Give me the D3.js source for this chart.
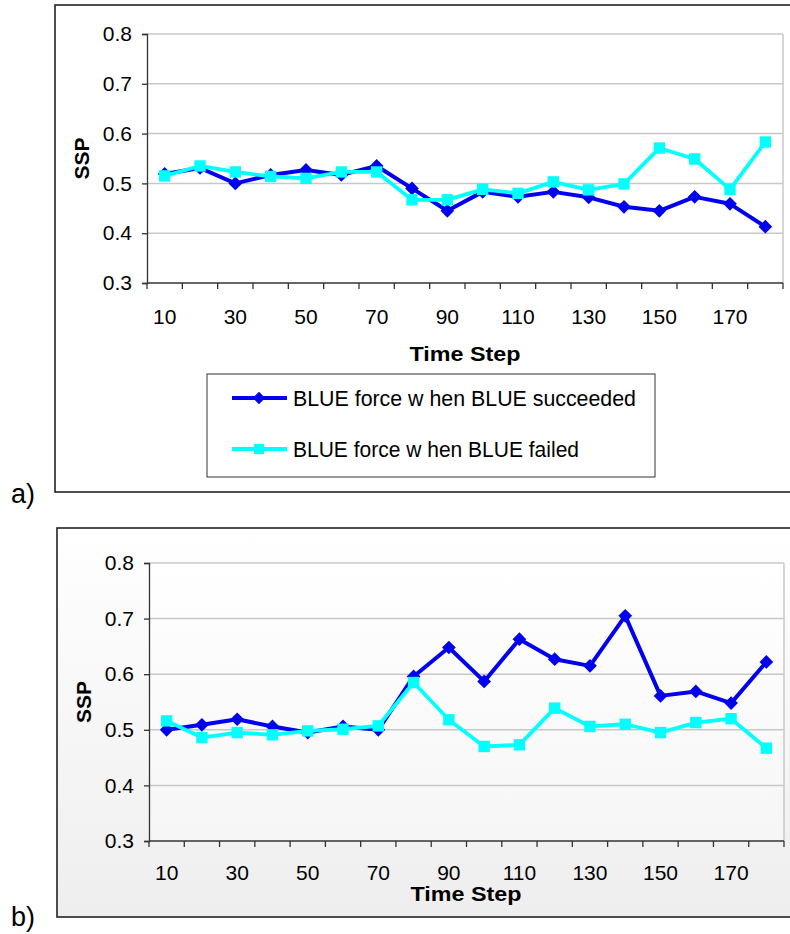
<!DOCTYPE html>
<html>
<head>
<meta charset="utf-8">
<script src="https://cdn.jsdelivr.net/npm/d3@7"></script>
<style>
  html, body { margin: 0; padding: 0; background: #fff; }
  svg { display: block; }
  text { font-family: "Liberation Sans", Arial, sans-serif; }
</style>
</head>
<body>
<svg id="chart" width="790" height="934"></svg>
<script>
// ---- data ----
const timeSteps = [10,20,30,40,50,60,70,80,90,100,110,120,130,140,150,160,170,180];
const tickLabels = [10,30,50,70,90,110,130,150,170];
const yTicks = [0.3,0.4,0.5,0.6,0.7,0.8];
const seriesNames = ["BLUE force w hen BLUE succeeded", "BLUE force w hen BLUE failed"];
const aSucceeded = [0.519,0.531,0.500,0.517,0.527,0.517,0.535,0.490,0.445,0.483,0.473,0.483,0.472,0.453,0.445,0.473,0.459,0.413];
const aFailed    = [0.515,0.535,0.523,0.514,0.510,0.523,0.523,0.467,0.467,0.488,0.480,0.503,0.487,0.499,0.571,0.549,0.488,0.583];
const bSucceeded = [0.500,0.509,0.519,0.506,0.495,0.506,0.500,0.596,0.648,0.587,0.663,0.627,0.615,0.705,0.561,0.569,0.548,0.622];
const bFailed    = [0.516,0.486,0.495,0.491,0.498,0.501,0.507,0.585,0.518,0.470,0.473,0.539,0.506,0.510,0.495,0.513,0.520,0.467];

const svg = d3.select("#chart");
const defs = svg.append("defs");
const g1 = defs.append("linearGradient").attr("id","bgB").attr("x1",0).attr("y1",0).attr("x2",0).attr("y2",1);
g1.append("stop").attr("offset","0%").attr("stop-color","#ffffff");
g1.append("stop").attr("offset","100%").attr("stop-color","#eeeeee");
const g2 = defs.append("linearGradient").attr("id","plotB").attr("x1",0).attr("y1",0).attr("x2",0).attr("y2",1);
g2.append("stop").attr("offset","0%").attr("stop-color","#ffffff");
g2.append("stop").attr("offset","100%").attr("stop-color","#f6f6f6");

const BLUE = "#0000ee", CYAN = "#00ffff";

function drawPanel(cfg) {
  const {box, plot, succ, fail, bgFill, plotFill, timeStepY, tickY, legend, label} = cfg;
  svg.append("rect")
    .attr("x", box.x).attr("y", box.y).attr("width", box.w).attr("height", box.h)
    .attr("fill", bgFill).attr("stroke", "#222").attr("stroke-width", 1.6);

  const x = d3.scaleBand().domain(timeSteps).range([plot.l, plot.r]).paddingInner(0).paddingOuter(0);
  const y = d3.scaleLinear().domain([0.3, 0.8]).range([plot.b, plot.t]);

  svg.append("rect")
    .attr("x", plot.l).attr("y", plot.t).attr("width", plot.r - plot.l).attr("height", plot.b - plot.t)
    .attr("fill", plotFill).attr("stroke", "none");

  svg.append("g").selectAll("line").data(yTicks.filter(d => d > 0.3)).join("line")
    .attr("x1", plot.l).attr("x2", plot.r)
    .attr("y1", d => y(d)).attr("y2", d => y(d))
    .attr("stroke", "#c8c8c8").attr("stroke-width", 1.5);
  svg.append("line").attr("x1", plot.r).attr("x2", plot.r).attr("y1", plot.t).attr("y2", plot.b)
    .attr("stroke", "#c8c8c8").attr("stroke-width", 1.5);

  const yAxis = d3.axisLeft(y).tickValues(yTicks).tickFormat(d3.format(".1f")).tickSize(5).tickPadding(10);
  const ya = svg.append("g").attr("transform", `translate(${plot.l},0)`).call(yAxis);
  ya.select(".domain").attr("stroke", "#333").attr("stroke-width", 1.3);
  ya.selectAll(".tick line").attr("stroke", "#333").attr("stroke-width", 1.3);
  ya.selectAll(".tick text").attr("font-size", 21).attr("fill", "#000")
    .attr("font-family", "'Liberation Sans', Arial, sans-serif");

  const bounds = timeSteps.map(d => x(d)).concat([plot.r]);
  const xa = svg.append("g");
  xa.append("line").attr("x1", plot.l).attr("x2", plot.r).attr("y1", plot.b).attr("y2", plot.b)
    .attr("stroke", "#333").attr("stroke-width", 1.3);
  xa.selectAll("line.tk").data(bounds).join("line").attr("class","tk")
    .attr("x1", d => d).attr("x2", d => d).attr("y1", plot.b).attr("y2", plot.b + 6)
    .attr("stroke", "#333").attr("stroke-width", 1.3);
  xa.selectAll("text").data(tickLabels).join("text")
    .attr("x", d => x(d) + x.bandwidth() / 2).attr("y", tickY)
    .attr("text-anchor", "middle").attr("font-size", 21).attr("fill", "#000")
    .text(d => d);

  svg.append("text")
    .attr("transform", `translate(${plot.l - 66},${(plot.t + plot.b) / 2}) rotate(-90)`)
    .attr("text-anchor", "middle").attr("dominant-baseline", "central")
    .attr("font-size", 21).attr("font-weight", "bold").text("SSP");
  svg.append("text")
    .attr("x", timeStepY.x).attr("y", timeStepY.y).attr("text-anchor", "middle")
    .attr("font-size", 21).attr("font-weight", "bold")
    .attr("textLength", 111).attr("lengthAdjust", "spacingAndGlyphs")
    .text("Time Step");

  const cx = d => x(d) + x.bandwidth() / 2;
  const line = d3.line().x((d, i) => cx(timeSteps[i])).y(d => y(d));
  const series = [
    {vals: succ, color: BLUE, sym: d3.symbolDiamond2, size: 120, w: 4},
    {vals: fail, color: CYAN, sym: d3.symbolSquare, size: 130, w: 3.8}
  ];
  series.forEach(s => {
    svg.append("path").datum(s.vals).attr("d", line)
      .attr("fill", "none").attr("stroke", s.color).attr("stroke-width", s.w)
      .attr("stroke-linejoin", "round");
    svg.append("g").selectAll("path").data(s.vals).join("path")
      .attr("transform", (d, i) => `translate(${cx(timeSteps[i])},${y(d)})`)
      .attr("d", d3.symbol().type(s.sym).size(s.size))
      .attr("fill", s.color);
  });

  if (legend) {
    svg.append("rect").attr("x", legend.x).attr("y", legend.y).attr("width", legend.w).attr("height", legend.h)
      .attr("fill", "#fff").attr("stroke", "#333").attr("stroke-width", 1);
    const rows = [legend.y + 24, legend.y + 75];
    const lens = [343, 286];
    series.forEach((s, i) => {
      const ry = rows[i];
      svg.append("line").attr("x1", legend.x + 25).attr("x2", legend.x + 80)
        .attr("y1", ry).attr("y2", ry).attr("stroke", s.color).attr("stroke-width", s.w);
      svg.append("path").attr("transform", `translate(${legend.x + 52},${ry})`)
        .attr("d", d3.symbol().type(s.sym).size(s.size * 0.8)).attr("fill", s.color);
      svg.append("text").attr("x", legend.x + 86).attr("y", ry + 8)
        .attr("font-size", 22).attr("fill", "#000")
        .attr("textLength", lens[i]).attr("lengthAdjust", "spacingAndGlyphs")
        .text(seriesNames[i]);
    });
  }

  svg.append("text").attr("x", label.x).attr("y", label.y)
    .attr("font-family", "'Liberation Serif', 'Times New Roman', serif")
    .attr("font-size", 27).attr("fill", "#000").text(label.text);
}

drawPanel({
  box: {x: 55, y: 5, w: 760, h: 487},
  plot: {l: 147, r: 783, t: 34, b: 283},
  succ: aSucceeded, fail: aFailed,
  bgFill: "#ffffff", plotFill: "#ffffff",
  timeStepY: {x: 465, y: 361},
  tickY: 324,
  legend: {x: 207, y: 374, w: 448, h: 103},
  label: {x: 11, y: 503, text: "a)"}
});

drawPanel({
  box: {x: 57, y: 528, w: 760, h: 389},
  plot: {l: 149, r: 784, t: 563, b: 841},
  succ: bSucceeded, fail: bFailed,
  bgFill: "url(#bgB)", plotFill: "url(#plotB)",
  timeStepY: {x: 466, y: 901},
  tickY: 880,
  legend: null,
  label: {x: 11, y: 926, text: "b)"}
});
</script>
</body>
</html>
